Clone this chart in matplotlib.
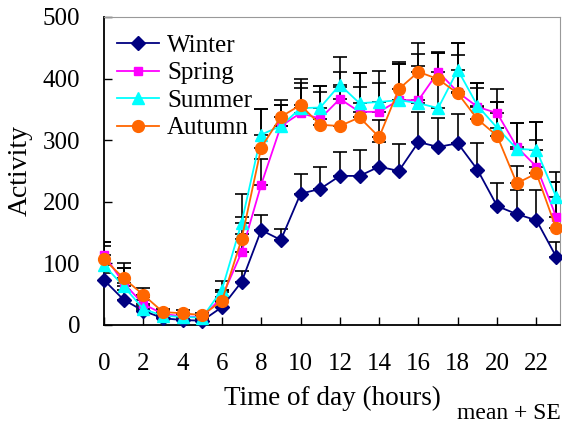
import matplotlib as mpl
mpl.use('agg')
import matplotlib.pyplot as plt
import numpy as np

hours = np.arange(24)

winter = [73, 41, 23, 11, 8, 7, 29, 70, 154, 138, 213, 221, 242, 242, 257, 250, 297, 289, 295, 252, 193, 180, 170, 111]
spring = [114, 68, 34, 18, 14, 13, 45, 118, 228, 323, 344, 335, 367, 346, 346, 365, 365, 411, 378, 354, 344, 289, 257, 176]
summer = [97, 63, 26, 15, 13, 12, 57, 166, 309, 323, 352, 353, 390, 360, 362, 365, 360, 352, 414, 356, 320, 286, 284, 208]
autumn = [107, 76, 49, 21, 19, 16, 39, 139, 288, 338, 357, 325, 323, 337, 305, 383, 411, 399, 376, 334, 307, 230, 246, 157]

winter_se = [12, 15, 8, 5, 4, 3, 8, 18, 25, 18, 32, 35, 38, 42, 40, 44, 48, 47, 47, 44, 38, 39, 49, 24]
spring_se = [21, 25, 12, 6, 5, 4, 12, 30, 42, 34, 40, 43, 44, 40, 47, 58, 56, 32, 60, 39, 39, 39, 43, 56]
summer_se = [31, 30, 14, 6, 5, 5, 15, 47, 41, 34, 41, 35, 45, 49, 50, 62, 80, 89, 44, 37, 42, 42, 46, 40]
autumn_se = [28, 24, 11, 5, 5, 4, 14, 37, 62, 27, 42, 63, 63, 72, 28, 40, 47, 42, 82, 51, 55, 28, 84, 75]

series = [
    ('Winter', winter, winter_se, '#000080', 'D', 7),
    ('Spring', spring, spring_se, '#FF00FF', 's', 6),
    ('Summer', summer, summer_se, '#00FFFF', '^', 8.5),
    ('Autumn', autumn, autumn_se, '#FF6600', 'o', 8.5),
]

plt.rcParams['font.family'] = ['Liberation Serif', 'DejaVu Serif']

fig = plt.figure(figsize=(5.62, 4.24), dpi=100)
ax = fig.add_axes([0.185, 0.2335, 0.8115, 0.7265])

for name, vals, se, col, mk, ms in series:
    vals = np.array(vals)
    se = np.array(se)
    ax.errorbar(hours, vals, yerr=[np.zeros_like(se), se], fmt='none',
                ecolor='black', elinewidth=1.2, capsize=5, capthick=1.2, zorder=2)
for name, vals, se, col, mk, ms in series:
    ax.plot(hours, vals, color=col, marker=mk, markersize=ms, lw=1.3,
            markeredgecolor=col, label=name, zorder=3, clip_on=False)

ax.set_xlim(0, 23.2)
ax.set_ylim(0, 500)
ax.set_xticks(np.arange(0, 24, 2))
ax.set_yticks(np.arange(0, 501, 100))
ax.tick_params(axis='x', direction='in', length=6, pad=20, labelsize=18, width=1)
ax.tick_params(axis='y', direction='in', length=6, pad=17, labelsize=18, width=1)

for side in ['top', 'right']:
    ax.spines[side].set_color('#999999')
for side in ['left', 'bottom']:
    ax.spines[side].set_color('black')
    ax.spines[side].set_linewidth(1.3)

ax.set_ylabel('Activity', fontsize=20, labelpad=7)
ax.set_xlabel('Time of day (hours)', fontsize=19.5, labelpad=8)
fig.text(0.998, 0.001, 'mean + SE', fontsize=17, ha='right', va='bottom')

ax.legend(loc='upper left', frameon=False, fontsize=18, handlelength=1.7,
          handletextpad=0.3, labelspacing=0.2, borderaxespad=0.3,
          bbox_to_anchor=(-0.01, 1.0))

fig.savefig('out.png', dpi=100)
